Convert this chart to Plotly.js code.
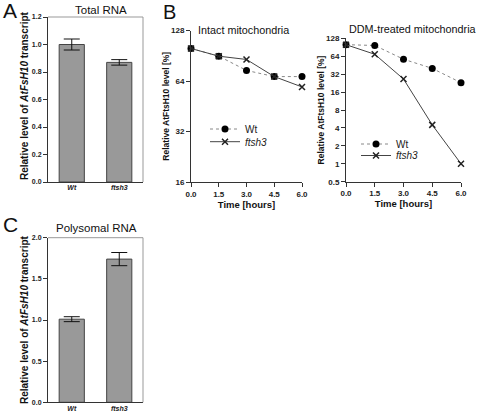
<!DOCTYPE html>
<html><head><meta charset="utf-8">
<script src="https://cdn.plot.ly/plotly-3.0.1.min.js"></script>
<style>html,body{margin:0;padding:0;background:#fff}#chart{width:477px;height:413px}</style>
</head><body><div id="chart"></div>
<script>
// ---- data ----
const barCategories = ['Wt', 'ftsh3'];
const totalRNA = [1.00, 0.87];
const totalRNAErr = [0.04, 0.02];
const polysomalRNA = [1.01, 1.74];
const polysomalRNAErr = [0.03, 0.08];

const timeHours = [0, 1.5, 3.0, 4.5, 6.0];
const timeTickLabels = ['0.0', '1.5', '3.0', '4.5', '6.0'];
const intactWt = [100, 90, 74, 68, 68];
const intactFtsh3 = [100, 90, 86, 68, 59];
const ddmWt = [100, 97, 57, 40, 23];
const ddmFtsh3 = [100, 69, 26.5, 4.5, 1.0];

const totalTicks = [0, 0.2, 0.4, 0.6, 0.8, 1.0, 1.2];
const totalTickLabels = ['0.0', '0.2', '0.4', '0.6', '0.8', '1.0', '1.2'];
const polyTicks = [0, 0.5, 1.0, 1.5, 2.0];
const polyTickLabels = ['0.0', '0.5', '1.0', '1.5', '2.0'];
const intactTicks = [16, 32, 64, 128];
const ddmTicks = [0.5, 1, 2, 4, 8, 16, 32, 64, 128];

// ---- layout helpers ----
const W = 477, H = 413;
const px = v => v / W;
const py = v => 1 - v / H;
const FONT = 'Liberation Sans, Arial, sans-serif';
const AX = '#333';

const barTickFont = {family: FONT, size: 7, color: '#222', weight: 'bold'};
const lineTickFont = {family: FONT, size: 8, color: '#222', weight: 'bold'};
function baseAxis(extra) {
  return Object.assign({
    showgrid: false, zeroline: false, showline: true, linecolor: AX, linewidth: 1,
    ticks: 'outside', ticklen: 4, tickwidth: 1, tickcolor: AX, tickfont: lineTickFont,
    fixedrange: true
  }, extra);
}

const barStyle = {color: '#999999', line: {color: '#444', width: 1}};
const errStyle = a => ({type: 'data', array: a, visible: true, color: '#111', thickness: 1, width: 8});

const traces = [
  {type: 'bar', x: barCategories, y: totalRNA, xaxis: 'x', yaxis: 'y', width: 0.53,
   marker: barStyle, error_y: errStyle(totalRNAErr), showlegend: false},
  {type: 'bar', x: barCategories, y: polysomalRNA, xaxis: 'x4', yaxis: 'y4', width: 0.53,
   marker: barStyle, error_y: errStyle(polysomalRNAErr), showlegend: false},
  {type: 'scatter', mode: 'lines+markers', x: timeHours, y: intactWt, xaxis: 'x2', yaxis: 'y2',
   name: 'Wt', legend: 'legend', cliponaxis: false,
   line: {color: '#888', width: 1, dash: 'dot'}, marker: {symbol: 'circle', size: 7, color: '#000'}},
  {type: 'scatter', mode: 'lines+markers', x: timeHours, y: intactFtsh3, xaxis: 'x2', yaxis: 'y2',
   name: '<i>ftsh3</i>', legend: 'legend2', cliponaxis: false,
   line: {color: '#444', width: 1}, marker: {symbol: 'x-thin', size: 6, color: '#222', line: {color: '#222', width: 1.5}}},
  {type: 'scatter', mode: 'lines+markers', x: timeHours, y: ddmWt, xaxis: 'x3', yaxis: 'y3',
   name: 'Wt', legend: 'legend3', cliponaxis: false,
   line: {color: '#888', width: 1, dash: 'dot'}, marker: {symbol: 'circle', size: 7, color: '#000'}},
  {type: 'scatter', mode: 'lines+markers', x: timeHours, y: ddmFtsh3, xaxis: 'x3', yaxis: 'y3',
   name: '<i>ftsh3</i>', legend: 'legend4', cliponaxis: false,
   line: {color: '#444', width: 1}, marker: {symbol: 'x-thin', size: 6, color: '#222', line: {color: '#222', width: 1.5}}}
];

const catTickFont = {family: FONT, size: 7, color: '#222', weight: 'bold', style: 'italic'};
const yTitleBarText = 'Relative level of <i>AtFsH10</i> transcript';
const yTitleBarFont = {family: FONT, size: 10, color: '#111', weight: 'bold'};
const yTitleLine = {text: 'Relative AtFtsH10 level [%]', font: {family: FONT, size: 8.5, color: '#111', weight: 'bold'}, standoff: 0};
const xTitleLine = {text: 'Time [hours]', font: {family: FONT, size: 9.5, color: '#111', weight: 'bold'}, standoff: 3};

const legendBase = {font: {family: FONT, size: 10, color: '#222'}, bgcolor: 'rgba(0,0,0,0)',
  borderwidth: 0, xanchor: 'left', yanchor: 'middle', itemwidth: 30, itemclick: false, itemdoubleclick: false};

const layout = {
  width: W, height: H, margin: {l: 0, r: 0, t: 0, b: 0},
  paper_bgcolor: '#fff', plot_bgcolor: 'rgba(0,0,0,0)',
  font: {family: FONT, color: '#222'},
  bargap: 0.3,
  xaxis: baseAxis({domain: [px(48), px(143)], type: 'category', range: [-0.5, 1.5], anchor: 'y',
    tickfont: catTickFont, ticks: '', ticklen: 0, ticklabelstandoff: -1}),
  yaxis: baseAxis({domain: [py(182), py(17)], range: [0, 1.2], anchor: 'x', tickfont: barTickFont,
    tickvals: totalTicks, ticktext: totalTickLabels}),
  xaxis2: baseAxis({domain: [px(191), px(302)], range: [0, 6], anchor: 'y2',
    tickvals: timeHours, ticktext: timeTickLabels, title: xTitleLine}),
  yaxis2: baseAxis({domain: [py(182), py(30.5)], type: 'log', range: [Math.log10(16), Math.log10(128)], anchor: 'x2',
    tickvals: intactTicks, ticktext: intactTicks.map(String), title: yTitleLine}),
  xaxis3: baseAxis({domain: [px(346), px(461)], range: [0, 6], anchor: 'y3',
    tickvals: timeHours, ticktext: timeTickLabels, title: xTitleLine}),
  yaxis3: baseAxis({domain: [py(181.7), py(38.3)], type: 'log', range: [Math.log10(0.5), Math.log10(128)], anchor: 'x3',
    tickvals: ddmTicks, ticktext: ddmTicks.map(String), title: yTitleLine}),
  xaxis4: baseAxis({domain: [px(48), px(143)], type: 'category', range: [-0.5, 1.5], anchor: 'y4',
    tickfont: catTickFont, ticks: '', ticklen: 0, ticklabelstandoff: -1}),
  yaxis4: baseAxis({domain: [py(402.3), py(237.7)], range: [0, 2.0], anchor: 'x4', tickfont: barTickFont,
    tickvals: polyTicks, ticktext: polyTickLabels}),
  legend: Object.assign({}, legendBase, {x: px(205), y: py(129)}),
  legend2: Object.assign({}, legendBase, {x: px(205), y: py(141.7)}),
  legend3: Object.assign({}, legendBase, {x: px(356), y: py(144)}),
  legend4: Object.assign({}, legendBase, {x: px(356), y: py(155.5)}),
  shapes: [
    {type: 'line', xref: 'x domain', yref: 'y domain', x0: 0, x1: 1, y0: 1, y1: 1, line: {color: '#999', width: 1}},
    {type: 'line', xref: 'x domain', yref: 'y domain', x0: 1, x1: 1, y0: 0, y1: 1, line: {color: '#999', width: 1}},
    {type: 'line', xref: 'x4 domain', yref: 'y4 domain', x0: 0, x1: 1, y0: 1, y1: 1, line: {color: '#999', width: 1}},
    {type: 'line', xref: 'x4 domain', yref: 'y4 domain', x0: 1, x1: 1, y0: 0, y1: 1, line: {color: '#999', width: 1}}
  ],
  annotations: [
    {text: 'A', x: px(1), y: py(10), xanchor: 'left', yanchor: 'middle', font: {family: FONT, size: 21, color: '#111'}},
    {text: 'B', x: px(161), y: py(12), xanchor: 'left', yanchor: 'middle', font: {family: FONT, size: 20, color: '#111'}},
    {text: 'C', x: px(1), y: py(224), xanchor: 'left', yanchor: 'middle', font: {family: FONT, size: 21, color: '#111'}},
    {text: 'Total RNA', x: px(101), y: py(10), xanchor: 'center', yanchor: 'middle', font: {family: FONT, size: 11.5, color: '#111'}},
    {text: 'Polysomal RNA', x: px(96), y: py(228), xanchor: 'center', yanchor: 'middle', font: {family: FONT, size: 11.5, color: '#111'}},
    {text: 'Intact mitochondria', x: px(243), y: py(30), xanchor: 'center', yanchor: 'middle', font: {family: FONT, size: 10.8, color: '#111'}},
    {text: 'DDM-treated mitochondria', x: px(412), y: py(29), xanchor: 'center', yanchor: 'middle', font: {family: FONT, size: 10.8, color: '#111'}},
    {text: yTitleBarText, x: px(24), y: py(96), xanchor: 'center', yanchor: 'middle', textangle: -90, font: yTitleBarFont},
    {text: yTitleBarText, x: px(24), y: py(320), xanchor: 'center', yanchor: 'middle', textangle: -90, font: yTitleBarFont}
  ].map(a => Object.assign({xref: 'paper', yref: 'paper', showarrow: false}, a))
};

Plotly.newPlot('chart', traces, layout, {staticPlot: true, displayModeBar: false});
</script>
</body></html>
